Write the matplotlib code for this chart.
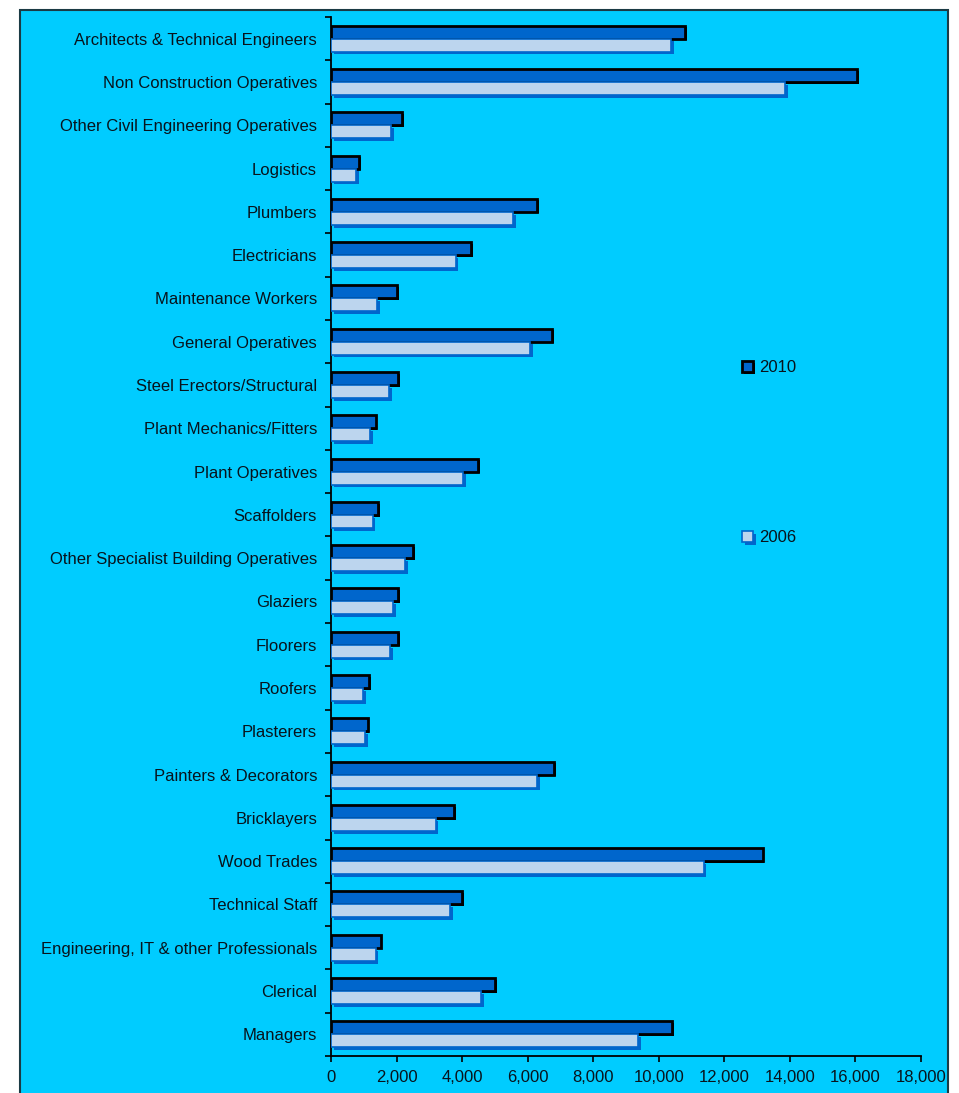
#!/usr/bin/env python3
# Construction employment by occupation, 2010 vs 2006 (horizontal bars)

import numpy as np
import matplotlib
matplotlib.use('Agg')  # non-interactive plot
import matplotlib.pyplot as plt
import matplotlib.patheffects as pe
from matplotlib.patches import Rectangle
from matplotlib.ticker import StrMethodFormatter, FixedLocator

# ------------------------------------------------------------
# data, listed top to bottom
# ------------------------------------------------------------
occupations = ["Architects & Technical Engineers",
               "Non Construction Operatives",
               "Other Civil Engineering Operatives",
               "Logistics",
               "Plumbers",
               "Electricians",
               "Maintenance Workers",
               "General Operatives",
               "Steel Erectors/Structural",
               "Plant Mechanics/Fitters",
               "Plant Operatives",
               "Scaffolders",
               "Other Specialist Building Operatives",
               "Glaziers",
               "Floorers",
               "Roofers",
               "Plasterers",
               "Painters & Decorators",
               "Bricklayers",
               "Wood Trades",
               "Technical Staff",
               "Engineering, IT & other Professionals",
               "Clerical",
               "Managers"]

jobs2010 = [10800, 16050, 2180, 860, 6280, 4280, 2010, 6740, 2050, 1360,
            4490, 1440, 2510, 2050, 2050, 1160, 1120, 6810, 3760, 13170,
            4000, 1520, 5000, 10400]

jobs2006 = [10370, 13850, 1840, 760, 5550, 3800, 1400, 6080, 1770, 1200,
            4040, 1270, 2250, 1900, 1810, 990, 1030, 6280, 3190, 11370,
            3640, 1360, 4580, 9370]

xTicks = [0, 2000, 4000, 6000, 8000, 10000, 12000, 14000, 16000, 18000]

# ------------------------------------------------------------
# style
# ------------------------------------------------------------
plt.rcParams['font.family'] = ['Liberation Sans', 'DejaVu Sans']
fontSize  = 12.0
bgColor   = '#00CCFF'
darkBlue  = '#0066CC'
lightBlue = '#BCD5EE'
textColor = '#08131c'

fig = plt.figure(figsize = (9.59, 10.93), dpi = 100)
fig.patch.set_facecolor('white')

# cyan panel with dark frame behind everything
panel = Rectangle((20 / 959, -0.01), (948 - 20) / 959, 1.01 - 10 / 1093,
                  transform = fig.transFigure, facecolor = bgColor,
                  edgecolor = '#1b3a44', linewidth = 1.5, zorder = -5)
fig.patches.append(panel)

ax = fig.add_axes([331 / 959, 1 - 1056 / 1093, 590 / 959, 1039 / 1093])
ax.set_facecolor('none')

ypos = np.arange(len(occupations))
h = 0.3

bars10 = ax.barh(ypos - h / 2, jobs2010, height = h, color = darkBlue,
                 edgecolor = 'black', linewidth = 2.0, label = '2010', zorder = 3)
bars06 = ax.barh(ypos + h / 2, jobs2006, height = h, color = lightBlue,
                 edgecolor = darkBlue, linewidth = 1.2, label = '2006', zorder = 3)

for b in bars10:
    b.set_path_effects([pe.SimplePatchShadow(offset = (1.2, -1.2), shadow_rgbFace = 'black', alpha = 1.0),
                        pe.Normal()])
for b in bars06:
    b.set_path_effects([pe.SimplePatchShadow(offset = (2, -2), shadow_rgbFace = darkBlue, alpha = 1.0),
                        pe.Normal()])

ax.set_ylim(len(occupations) - 0.5, -0.5)
ax.set_xlim(0, 18000)

# y axis: labels centred on categories, ticks on the boundaries
ax.set_yticks(ypos)
ax.set_yticklabels(occupations)
ax.yaxis.set_minor_locator(FixedLocator(np.arange(-0.5, len(occupations), 1.0)))
ax.tick_params(axis = 'y', which = 'major', length = 0, pad = 10,
               labelsize = fontSize, labelcolor = textColor)
ax.tick_params(axis = 'y', which = 'minor', length = 4.5, width = 1.2, color = 'black')

# x axis
ax.set_xticks(xTicks)
ax.xaxis.set_major_formatter(StrMethodFormatter('{x:,.0f}'))
ax.tick_params(axis = 'x', length = 4, width = 1.2, pad = 6,
               labelsize = fontSize, labelcolor = textColor)

for s in ['top', 'right']:
    ax.spines[s].set_visible(False)
for s in ['left', 'bottom']:
    ax.spines[s].set_linewidth(1.3)
    ax.spines[s].set_color('black')

# last tick label runs into the frame edge
for lbl in ax.get_xticklabels():
    lbl.set_clip_path(panel)

leg = ax.legend(handles = [bars10, bars06], labels = ['2010', '2006'],
                loc = 'center left', bbox_to_anchor = (742 / 959, 1 - 452.75 / 1093),
                bbox_transform = fig.transFigure, frameon = False,
                borderpad = 0, borderaxespad = 0, fontsize = fontSize,
                handlelength = 0.65, handleheight = 0.65, handletextpad = 0.4,
                labelspacing = 9.3, labelcolor = textColor)

fig.savefig('out.png', dpi = 100)
